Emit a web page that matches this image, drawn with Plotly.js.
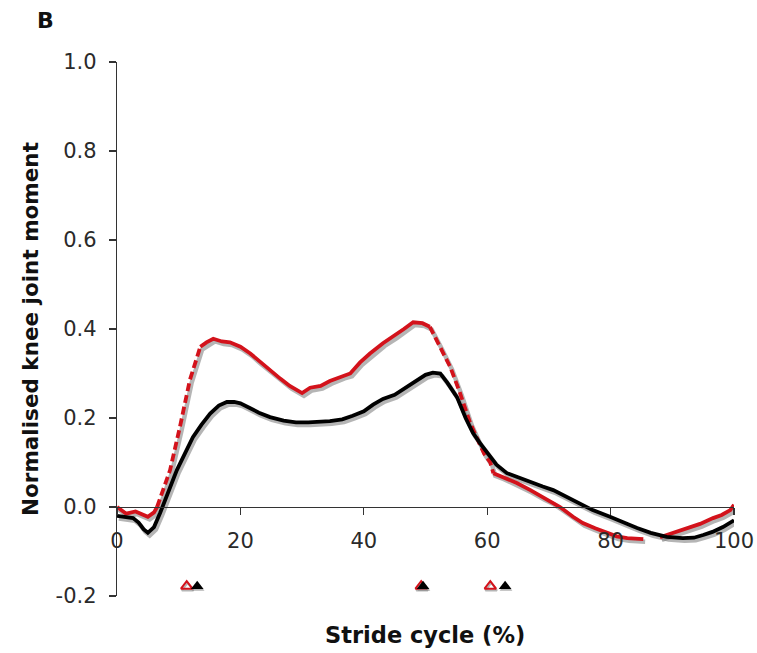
<!DOCTYPE html>
<html>
<head>
<meta charset="utf-8">
<script src="https://cdn.plot.ly/plotly-3.0.1.min.js"></script>
<style>html,body{margin:0;padding:0;background:#fff;}#chart{width:757px;height:653px;}</style>
</head>
<body>
<div id="chart"></div>
<script>
// Stride cycle (%) and normalised knee joint moment, red series
const redX = [0, 1.5, 3, 4, 5, 6, 6.5, 7.5, 8.6, 10.2, 11.8, 13.5, 14.5, 15.6, 17, 18.3, 20, 21.6, 23, 24.8, 26.5, 28, 30, 31.3, 33, 34.5, 36.6, 37.8, 39.4, 41, 43.1, 45, 46.5, 48, 49.5, 50.7, 52.4, 54, 55.6, 57.2, 58.5, 59.5, 60.5, 61, 62.5, 64.8, 67, 69, 70.5, 71.8, 73.9, 75.5, 77.5, 79.4, 81, 82.7, 84, 85.3, 86.5, 88, 89.1, 91, 92.9, 94.5, 96.6, 98, 99.4, 100];
const redY = [0.0, -0.015, -0.01, -0.016, -0.022, -0.012, 0.0, 0.04, 0.083, 0.18, 0.285, 0.36, 0.37, 0.378, 0.372, 0.37, 0.36, 0.345, 0.328, 0.308, 0.288, 0.272, 0.256, 0.268, 0.272, 0.283, 0.295, 0.30, 0.325, 0.345, 0.368, 0.385, 0.40, 0.415, 0.413, 0.405, 0.36, 0.315, 0.256, 0.19, 0.15, 0.12, 0.1, 0.076, 0.068, 0.054, 0.038, 0.022, 0.012, 0.0, -0.022, -0.036, -0.048, -0.058, -0.066, -0.07, -0.07, -0.072, null, -0.068, -0.063, -0.055, -0.047, -0.038, -0.025, -0.018, -0.007, 0.005];

// Black series
const blackX = [0, 1.5, 2.6, 3.5, 4.3, 5, 6, 7, 8.3, 9.7, 11, 12.3, 13.7, 15.1, 16.5, 17.8, 19, 20, 21.6, 23, 24.8, 27, 29, 31, 34.5, 36.5, 38.2, 40, 41.5, 43.1, 45, 47, 48.5, 50, 51.2, 52.4, 53.5, 55.1, 56.5, 57.7, 58.8, 60, 61.5, 63.2, 65, 67.4, 69, 70.7, 72.5, 73.9, 75.5, 77.1, 79.9, 82, 84.3, 86.5, 89.1, 91.7, 93.5, 95, 96.5, 98.2, 100];
const blackY = [-0.02, -0.024, -0.025, -0.035, -0.05, -0.058, -0.045, -0.013, 0.035, 0.083, 0.12, 0.157, 0.185, 0.21, 0.228, 0.236, 0.236, 0.233, 0.222, 0.212, 0.202, 0.194, 0.19, 0.19, 0.193, 0.197, 0.205, 0.215, 0.23, 0.243, 0.252, 0.27, 0.285, 0.297, 0.302, 0.3, 0.28, 0.247, 0.2, 0.166, 0.144, 0.121, 0.095, 0.076, 0.066, 0.054, 0.046, 0.038, 0.026, 0.016, 0.004, -0.007, -0.022, -0.035, -0.047, -0.058, -0.067, -0.07, -0.069, -0.063, -0.056, -0.045, -0.03];

// Event markers (triangles)
const redEventX = [11.3, 49.3, 60.5];
const blackEventX = [13.0, 49.6, 62.9];
const eventLevel = -0.178;

// Tick labels
const xTickVals = [0, 20, 40, 60, 80, 100];
const xTickText = ['0', '20', '40', '60', '80', '100'];
const yTickVals = [-0.2, 0.0, 0.2, 0.4, 0.6, 0.8, 1.0];
const yTickText = ['-0.2', '0.0', '0.2', '0.4', '0.6', '0.8', '1.0'];

const RED = '#d3121b';
const SHADOW = 'rgba(120,120,120,0.55)';
const shift = (arr, d) => arr.map(v => v === null ? null : v + d);

// red drawn in pieces: steep parts look dashed in the source
const redPieces = [[0, 6, 'solid'], [6, 11, '8px,4px'], [11, 35, 'solid'], [35, 43, '8px,4px'], [43, redX.length - 1, 'solid']];

const traces = [
  {x: shift(redX, 0.3), y: shift(redY, -0.006), mode: 'lines', line: {color: SHADOW, width: 4.5}, hoverinfo: 'skip', showlegend: false, connectgaps: false},
  {x: shift(blackX, 0.3), y: shift(blackY, -0.006), mode: 'lines', line: {color: SHADOW, width: 4.5}, hoverinfo: 'skip', showlegend: false}
];
redPieces.forEach(([a, b, d]) => {
  traces.push({x: redX.slice(a, b + 1), y: redY.slice(a, b + 1), mode: 'lines', line: {color: RED, width: 3.8, dash: d}, showlegend: false, connectgaps: false});
});
traces.push(
  {x: blackX, y: blackY, mode: 'lines', line: {color: '#000', width: 3.8}, showlegend: false},
  {x: shift(redEventX, 0.15), y: redEventX.map(() => eventLevel - 0.004), mode: 'markers', marker: {symbol: 'triangle-up-open', size: 10, color: SHADOW, line: {width: 2, color: SHADOW}}, showlegend: false, cliponaxis: false},
  {x: redEventX, y: redEventX.map(() => eventLevel), mode: 'markers', marker: {symbol: 'triangle-up-open', size: 10, color: RED, line: {width: 2, color: RED}}, showlegend: false, cliponaxis: false},
  {x: shift(blackEventX, 0.15), y: blackEventX.map(() => eventLevel - 0.004), mode: 'markers', marker: {symbol: 'triangle-up', size: 11, color: SHADOW}, showlegend: false, cliponaxis: false},
  {x: blackEventX, y: blackEventX.map(() => eventLevel), mode: 'markers', marker: {symbol: 'triangle-up', size: 11, color: '#000'}, showlegend: false, cliponaxis: false}
);

const FONT = 'DejaVu Sans, Verdana, sans-serif';
const layout = {
  width: 757, height: 653,
  margin: {l: 117, r: 23, t: 62, b: 57},
  paper_bgcolor: '#fff', plot_bgcolor: '#fff',
  font: {family: FONT, size: 17, color: '#222'},
  showlegend: false,
  xaxis: {
    range: [0, 100], anchor: 'free', position: 0.2 / 1.2,
    showgrid: false, zeroline: false, showline: true, linecolor: '#333', linewidth: 1.2,
    ticks: 'outside', ticklen: 7, tickwidth: 1.2, tickcolor: '#333',
    tickmode: 'array', tickvals: xTickVals, ticktext: xTickText,
    ticklabelstandoff: 8, tickfont: {family: FONT, size: 21, color: '#2a2a2a'}
  },
  yaxis: {
    range: [-0.2, 1.0],
    showgrid: false, zeroline: false, showline: true, linecolor: '#333', linewidth: 1.2,
    ticks: 'outside', ticklen: 7, tickwidth: 1.2, tickcolor: '#333',
    tickmode: 'array', tickvals: yTickVals, ticktext: yTickText,
    ticklabelstandoff: 8, tickfont: {family: FONT, size: 21, color: '#2a2a2a'},
    title: {text: '<b>Normalised knee joint moment</b>', font: {family: FONT, size: 21.5, color: '#111'}, standoff: 11}
  },
  annotations: [
    {text: '<b>B</b>', xref: 'paper', yref: 'paper', x: (45 - 117) / 617, y: 1 + (62 - 21) / 534, xanchor: 'center', yanchor: 'middle', showarrow: false, font: {family: FONT, size: 22, color: '#111'}},
    {text: '<b>Stride cycle (%)</b>', xref: 'paper', yref: 'paper', x: (425 - 117) / 617, y: -(635 - 596) / 534, xanchor: 'center', yanchor: 'middle', showarrow: false, font: {family: FONT, size: 22.5, color: '#111'}}
  ]
};

Plotly.newPlot('chart', traces, layout, {displayModeBar: false, staticPlot: true});
</script>
</body>
</html>
